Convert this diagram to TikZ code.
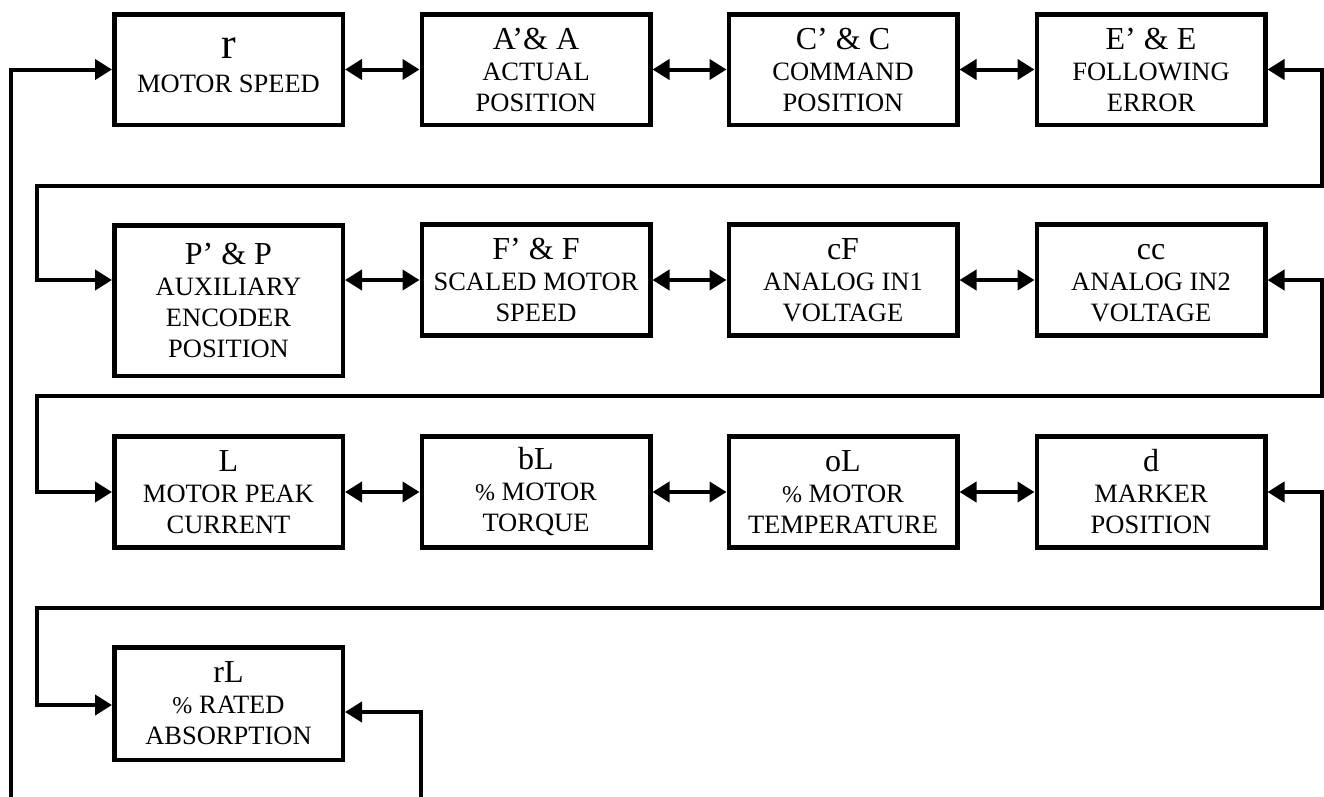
\documentclass[tikz,border=0pt]{standalone}
\usepackage{fontspec}
\setmainfont{Liberation Serif}
\usetikzlibrary{arrows.meta}
\newcommand\firstln{\fontsize{32}{31}\selectfont\vphantom{A}}
\newcommand\pctsign{{\fontsize{24}{31}\selectfont\%}}
\begin{document}
\begin{tikzpicture}[x=1pt,y=-1pt,
  box/.style={draw, line width=4.5pt, minimum width=228.5pt, minimum height=111pt,
    align=center, inner sep=0pt, font=\fontsize{26.5}{31}\selectfont},
  conn/.style={line width=4pt, >={Triangle[length=17pt,width=20pt]}, <->}]
\useasboundingbox (0,0) rectangle (1324,796);
\clip (0,0) rectangle (1324,796);
% row 1
\node[box, minimum height=110.5pt] (r) at (228.5,69.5) {{\fontsize{44}{44}\selectfont r}\\[3pt]MOTOR SPEED\rule[-9pt]{0pt}{0pt}};
\node[box, minimum height=110.5pt] (A) at (536,69.5) {{\firstln A’\& A}\\ACTUAL\\POSITION};
\node[box, minimum height=110.5pt] (C) at (843,69.5) {{\firstln C’ \& C}\\COMMAND\\POSITION};
\node[box, minimum height=110.5pt] (E) at (1151,69.5) {{\firstln E’ \& E}\\FOLLOWING\\ERROR};
% row 2
\node[box, minimum height=150.5pt] (P) at (228.5,300.5) {{\firstln P’ \& P}\\AUXILIARY\\ENCODER\\POSITION};
\node[box] (F) at (536,280) {{\firstln F’ \& F}\\SCALED MOTOR\\SPEED};
\node[box] (cF) at (843,280) {{\firstln cF}\\ANALOG IN1\\VOLTAGE};
\node[box] (cc) at (1151,280) {{\firstln cc}\\ANALOG IN2\\VOLTAGE};
% row 3
\node[box] (L) at (228.5,492) {{\firstln L}\\MOTOR PEAK\\CURRENT};
\node[box] (bL) at (536,492) {{\firstln bL}\\\pctsign{} MOTOR\\TORQUE};
\node[box] (oL) at (843,492) {{\firstln oL}\\\pctsign{} MOTOR\\TEMPERATURE};
\node[box] (d) at (1151,492) {{\firstln d}\\MARKER\\POSITION};
% row 4
\node[box, minimum height=112.5pt] (rL) at (228.5,703.5) {{\firstln rL}\\\pctsign{} RATED\\ABSORPTION};
% helper coordinates
\coordinate (k1) at (1321.5,185.5);
\coordinate (j1) at (36.5,280);
\coordinate (k2) at (1321.5,395.5);
\coordinate (j2) at (36.5,492);
\coordinate (k3) at (1321.5,607.5);
\coordinate (j3) at (36.5,705);
\coordinate (m) at (421,712);
\coordinate (b) at (11,815);
% connectors
\draw[conn] (r.east) -- (A.west);
\draw[conn] (A.east) -- (C.west);
\draw[conn] (C.east) -- (E.west);
\draw[conn] (E.east) -| (k1) -| (j1) -- (j1 -| P.west);
\draw[conn] (F.west -| P.east) -- (F.west);
\draw[conn] (F.east) -- (cF.west);
\draw[conn] (cF.east) -- (cc.west);
\draw[conn] (cc.east) -| (k2) -| (j2) -- (j2 -| L.west);
\draw[conn] (L.east) -- (bL.west);
\draw[conn] (bL.east) -- (oL.west);
\draw[conn] (oL.east) -- (d.west);
\draw[conn] (d.east) -| (k3) -| (j3) -- (j3 -| rL.west);
\draw[conn] (m -| rL.east) -- (m) |- (b) |- (r.west);
\end{tikzpicture}
\end{document}
